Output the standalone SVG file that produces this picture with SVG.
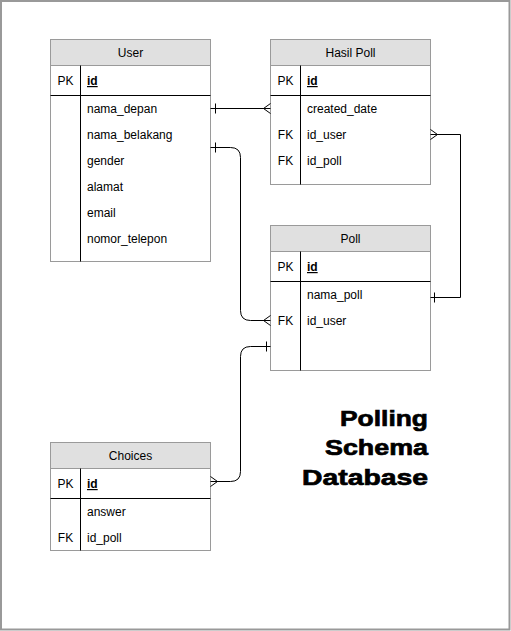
<svg xmlns="http://www.w3.org/2000/svg" width="511" height="631" viewBox="0 0 511 631">
<style>
.box{fill:#fff;stroke:#9a9a9a;stroke-width:1}
.hdr{fill:#e0e0e0;stroke:#9a9a9a;stroke-width:1}
.ln{stroke:#000;stroke-width:1;fill:none}
text{font-family:"Liberation Sans",Arial,Helvetica,sans-serif;font-size:12px;fill:#000}
.c{text-anchor:middle}
.pk{font-weight:bold;text-decoration:underline}
.title{font-size:22.5px;font-weight:bold;stroke:#000;stroke-width:0.7}
.conn{stroke:#000;stroke-width:1;fill:none}
</style>
<rect x="1" y="1" width="508.5" height="628.5" fill="#fff" stroke="#999" stroke-width="2"/>

<g id="user">
<rect class="box" x="50.5" y="39.5" width="160" height="222"/>
<rect class="hdr" x="50.5" y="39.5" width="160" height="26"/>
<text class="c" x="130.5" y="57">User</text>
<line class="ln" x1="80.5" y1="65.5" x2="80.5" y2="261.5"/>
<line class="ln" x1="50.5" y1="95.5" x2="210.5" y2="95.5"/>
<text class="c" x="65.5" y="85">PK</text>
<text class="pk" x="87" y="85">id</text>
<text x="87" y="113">nama_depan</text>
<text x="87" y="139">nama_belakang</text>
<text x="87" y="165">gender</text>
<text x="87" y="191">alamat</text>
<text x="87" y="217">email</text>
<text x="87" y="243">nomor_telepon</text>
</g>

<g id="hasil_poll">
<rect class="box" x="270.5" y="39.5" width="160" height="145"/>
<rect class="hdr" x="270.5" y="39.5" width="160" height="26"/>
<text class="c" x="350.5" y="57">Hasil Poll</text>
<line class="ln" x1="300.5" y1="65.5" x2="300.5" y2="184.5"/>
<line class="ln" x1="270.5" y1="95.5" x2="430.5" y2="95.5"/>
<text class="c" x="285.5" y="85">PK</text>
<text class="pk" x="307" y="85">id</text>
<text x="307" y="113">created_date</text>
<text class="c" x="285.5" y="139">FK</text>
<text x="307" y="139">id_user</text>
<text class="c" x="285.5" y="165">FK</text>
<text x="307" y="165">id_poll</text>
</g>

<g id="poll">
<rect class="box" x="270.5" y="225.5" width="160" height="145"/>
<rect class="hdr" x="270.5" y="225.5" width="160" height="26"/>
<text class="c" x="350.5" y="243">Poll</text>
<line class="ln" x1="300.5" y1="251.5" x2="300.5" y2="370.5"/>
<line class="ln" x1="270.5" y1="281.5" x2="430.5" y2="281.5"/>
<text class="c" x="285.5" y="271">PK</text>
<text class="pk" x="307" y="271">id</text>
<text x="307" y="299">nama_poll</text>
<text class="c" x="285.5" y="325">FK</text>
<text x="307" y="325">id_user</text>
</g>

<g id="choices">
<rect class="box" x="50.5" y="442.5" width="160" height="108"/>
<rect class="hdr" x="50.5" y="442.5" width="160" height="26"/>
<text class="c" x="130.5" y="460">Choices</text>
<line class="ln" x1="80.5" y1="468.5" x2="80.5" y2="550.5"/>
<line class="ln" x1="50.5" y1="498.5" x2="210.5" y2="498.5"/>
<text class="c" x="65.5" y="488">PK</text>
<text class="pk" x="87" y="488">id</text>
<text x="87" y="516">answer</text>
<text class="c" x="65.5" y="542">FK</text>
<text x="87" y="542">id_poll</text>
</g>

<g id="connectors">
<path class="conn" d="M210.5 108.5 H270.5"/>
<path class="conn" d="M215.5 103.5 V113.5"/>
<path class="conn" d="M270.5 103.5 L263.5 108.5 L270.5 113.5"/>
<path class="conn" d="M210.5 147.5 H230.5 Q240.5 147.5 240.5 157.5 V310.5 Q240.5 320.5 250.5 320.5 H270.5"/>
<path class="conn" d="M215.5 142.5 V152.5"/>
<path class="conn" d="M270.5 315.5 L263.5 320.5 L270.5 325.5"/>
<path class="conn" d="M430.5 134.5 H460.5 V297.5 H430.5"/>
<path class="conn" d="M430.5 129.5 L437.5 134.5 L430.5 139.5"/>
<path class="conn" d="M434.5 292.5 V302.5"/>
<path class="conn" d="M270.5 346.5 H250.5 Q240.5 346.5 240.5 356.5 V471.5 Q240.5 481.5 230.5 481.5 H210.5"/>
<path class="conn" d="M266.5 341.5 V351.5"/>
<path class="conn" d="M210.5 476.5 L217.5 481.5 L210.5 486.5"/>
</g>

<g id="title">
<text class="title" x="340" y="426" textLength="88" lengthAdjust="spacingAndGlyphs">Polling</text>
<text class="title" x="325" y="455" textLength="103" lengthAdjust="spacingAndGlyphs">Schema</text>
<text class="title" x="302" y="485" textLength="126" lengthAdjust="spacingAndGlyphs">Database</text>
</g>
</svg>
